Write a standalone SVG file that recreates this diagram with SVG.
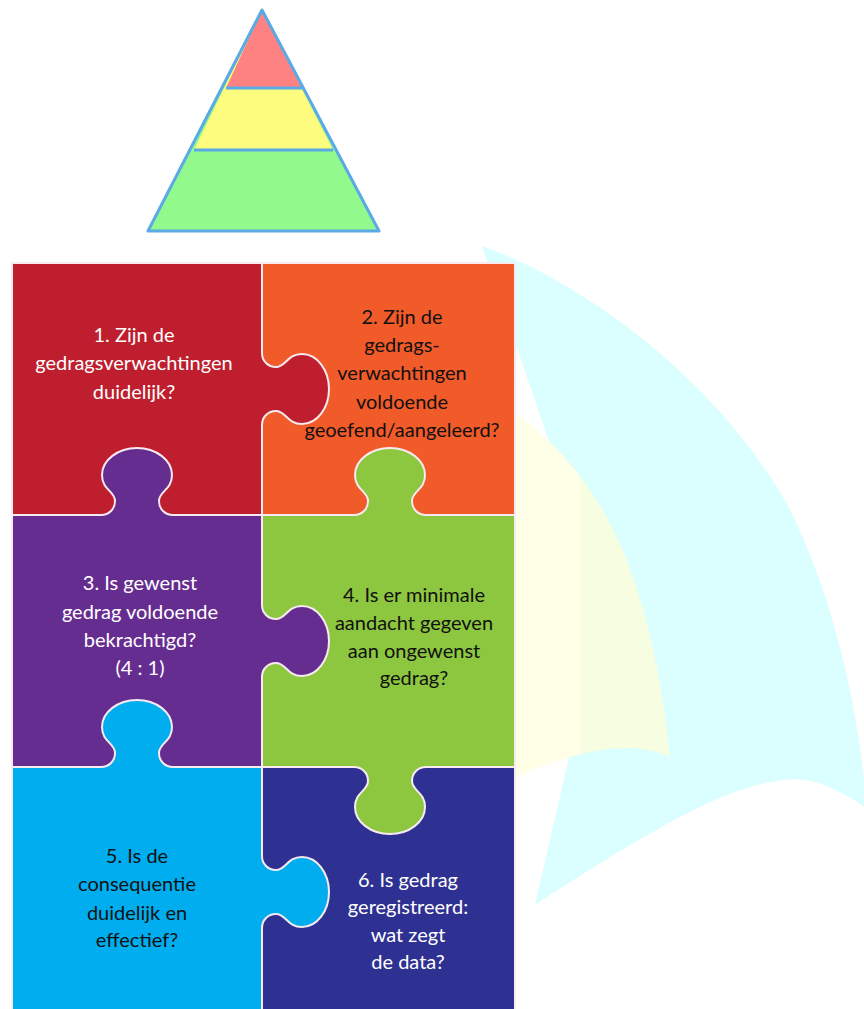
<svg xmlns="http://www.w3.org/2000/svg" width="864" height="1009" viewBox="0 0 864 1009">
<style>
.t{font-family:Lato,"Liberation Sans",sans-serif;font-size:20px;text-anchor:middle}
.w{fill:#ffffff}.k{fill:#111111}
.pc{stroke:#f7eaf0;stroke-width:2}
.ts{fill:none;stroke:#f7eaf0;stroke-width:2}
.pyr{stroke:#5aaae6;stroke-width:3;stroke-linejoin:round}
</style>
<defs>
<linearGradient id="yg" gradientUnits="userSpaceOnUse" x1="505" y1="0" x2="672" y2="0">
<stop offset="0" stop-color="#FFFEE6"/><stop offset="0.45" stop-color="#FFFEE6"/>
<stop offset="0.45" stop-color="#F7FDE0"/><stop offset="1" stop-color="#F7FDE0"/>
</linearGradient>
<path id="tabF" d="M-3,-36 L0,-36 C0,-28 6,-22 14,-22 C24,-22 25,-35 40,-35 C55,-35 67,-19 67,0 C67,19 55,35 40,35 C25,35 24,22 14,22 C6,22 0,28 0,36 L-3,36 Z"/>
<path id="tabS" d="M0,-36 C0,-28 6,-22 14,-22 C24,-22 25,-35 40,-35 C55,-35 67,-19 67,0 C67,19 55,35 40,35 C25,35 24,22 14,22 C6,22 0,28 0,36"/>
</defs>
<rect width="864" height="1009" fill="#ffffff"/>
<g id="sails">
<path d="M482,246 C580,280 720,380 790,510 C830,590 858,700 866,800 L866,808 C840,790 812,776 785,780 C720,785 620,850 535,905 L570,753 C590,640 585,540 559,470 Z" fill="#DBFEFE"/>
<path d="M505,410 L517,414 C590,470 648,550 670,757 C645,745 600,738 505,782 Z" fill="url(#yg)"/>
</g>
<g id="pyramid">
<polygon points="262,10 379,231 148,231" fill="#92F98C"/>
<polygon points="262,10 333,150 194,150" fill="#FDFC7E"/>
<polygon points="262,10 302,88 226,88" fill="#FF8282"/>
<line class="pyr" x1="226" y1="88" x2="302" y2="88"/>
<line class="pyr" x1="194" y1="150" x2="333" y2="150"/>
<polygon points="262,10 379,231 148,231" fill="none" class="pyr"/>
</g>
<g id="piece1"><rect class="pc" x="12" y="263" width="250" height="252" fill="#BE1E2D"/></g>
<g id="piece2"><rect class="pc" x="262" y="263" width="253" height="252" fill="#F15A29"/></g>
<g id="piece3"><rect class="pc" x="12" y="515" width="250" height="252" fill="#662D91"/></g>
<g id="piece4"><rect class="pc" x="262" y="515" width="253" height="252" fill="#8DC63F"/></g>
<g id="piece5"><rect class="pc" x="12" y="767" width="250" height="250" fill="#00AEEF"/></g>
<g id="piece6"><rect class="pc" x="262" y="767" width="253" height="250" fill="#2E3192"/></g>
<g id="tabs">
<g transform="translate(262,389)"><use href="#tabF" fill="#BE1E2D"/><use href="#tabS" class="ts"/></g>
<g transform="translate(137,515) rotate(-90)"><use href="#tabF" fill="#662D91"/><use href="#tabS" class="ts"/></g>
<g transform="translate(390,515) rotate(-90)"><use href="#tabF" fill="#8DC63F"/><use href="#tabS" class="ts"/></g>
<g transform="translate(262,641)"><use href="#tabF" fill="#662D91"/><use href="#tabS" class="ts"/></g>
<g transform="translate(137,767) rotate(-90)"><use href="#tabF" fill="#00AEEF"/><use href="#tabS" class="ts"/></g>
<g transform="translate(390,767) rotate(90)"><use href="#tabF" fill="#8DC63F"/><use href="#tabS" class="ts"/></g>
<g transform="translate(262,892)"><use href="#tabF" fill="#00AEEF"/><use href="#tabS" class="ts"/></g>
</g>
<g id="labels">
<text class="t w" x="134" y="342">1. Zijn de</text>
<text class="t w" x="134" y="370">gedragsverwachtingen</text>
<text class="t w" x="134" y="399">duidelijk?</text>
<text class="t k" x="402" y="324">2. Zijn de</text>
<text class="t k" x="402" y="352">gedrags-</text>
<text class="t k" x="402" y="380">verwachtingen</text>
<text class="t k" x="402" y="409">voldoende</text>
<text class="t k" x="402" y="437">geoefend/aangeleerd?</text>
<text class="t w" x="140" y="590">3. Is gewenst</text>
<text class="t w" x="140" y="619">gedrag voldoende</text>
<text class="t w" x="140" y="647">bekrachtigd?</text>
<text class="t w" x="140" y="675">(4 : 1)</text>
<text class="t k" x="414" y="602">4. Is er minimale</text>
<text class="t k" x="414" y="630">aandacht gegeven</text>
<text class="t k" x="414" y="658">aan ongewenst</text>
<text class="t k" x="414" y="685">gedrag?</text>
<text class="t k" x="137" y="863">5. Is de</text>
<text class="t k" x="137" y="891">consequentie</text>
<text class="t k" x="137" y="920">duidelijk en</text>
<text class="t k" x="137" y="947">effectief?</text>
<text class="t w" x="408" y="887">6. Is gedrag</text>
<text class="t w" x="408" y="914">geregistreerd:</text>
<text class="t w" x="408" y="942">wat zegt</text>
<text class="t w" x="408" y="969">de data?</text>
</g>
</svg>
